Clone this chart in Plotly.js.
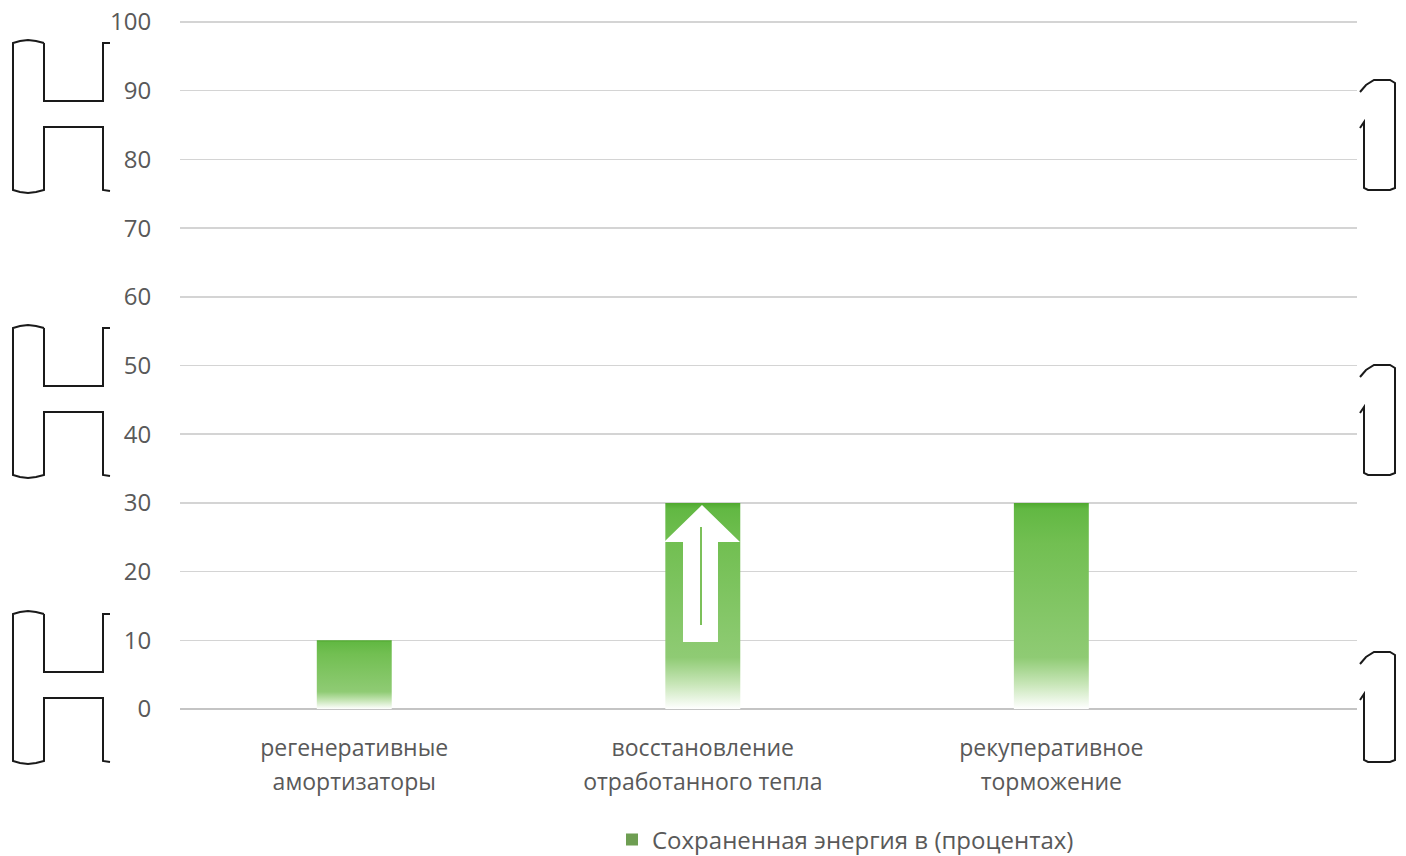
<!DOCTYPE html>
<html>
<head>
<meta charset="utf-8">
<script src="https://cdn.plot.ly/plotly-3.0.1.min.js"></script>
<style>
html,body{margin:0;padding:0;background:#fff;}
#chart{width:1406px;height:856px;}
</style>
</head>
<body>
<div id="chart"></div>
<script>
// ---- data ----
const categories = [
  "регенеративные<br>амортизаторы",
  "восстановление<br>отработанного тепла",
  "рекуперативное<br>торможение"
];
const savedEnergy = [10, 30, 30];
const seriesName = "Сохраненная энергия в (процентах)";
const yTicks = [0, 10, 20, 30, 40, 50, 60, 70, 80, 90, 100];

// ---- layout geometry (pixels) ----
const W = 1406, H = 856;
const M = {l: 180, r: 49, t: 21, b: 147};
const PW = W - M.l - M.r, PH = H - M.t - M.b;
const px = x => (x - M.l) / PW;
const py = y => (H - M.b - y) / PH;
function path(pts) {
  return pts.map((p, i) => (i ? 'L' : 'M') + px(p[0]).toFixed(5) + ',' + py(p[1]).toFixed(5)).join(' ');
}

// decorative binder brackets seen in the scan
const shapes = [];
const lineStyle = {color: '#1a1a1a', width: 2};
[0, 285, 571].forEach(o => {
  shapes.push({type: 'path', xref: 'paper', yref: 'paper', line: lineStyle,
    path: path([[110, 43 + o], [103, 43 + o], [103, 101 + o], [44, 101 + o], [44, 43 + o]]) +
          ' ' + path([[44, 43 + o], [36, 41 + o], [28, 40 + o], [20, 41 + o], [13, 43 + o], [13, 190 + o],
                      [20, 192 + o], [28, 193 + o], [36, 192 + o], [44, 190 + o], [44, 127 + o], [103, 127 + o], [103, 190 + o], [110, 191 + o]])
  });
});
[0, 285, 572].forEach(o => {
  shapes.push({type: 'path', xref: 'paper', yref: 'paper', line: lineStyle,
    path: path([[1360, 92 + o], [1366, 85 + o], [1374, 80 + o], [1390, 80 + o], [1395, 83 + o], [1395, 188 + o],
                [1390, 190 + o], [1368, 190 + o], [1364, 188 + o], [1364, 122 + o], [1360, 128 + o]])
  });
});
// white up-arrow over the middle bar
shapes.push({type: 'path', xref: 'paper', yref: 'paper', layer: 'above',
  fillcolor: '#ffffff', line: {width: 0},
  path: path([[683, 642], [718, 642], [718, 542], [740, 542], [702, 505], [664, 542], [683, 542]]) + ' Z'
});
shapes.push({type: 'path', xref: 'paper', yref: 'paper', layer: 'above',
  line: {color: '#7cc05a', width: 2},
  path: path([[701, 527], [701, 625]])
});

const trace = {
  type: 'bar',
  x: [0, 1, 2],
  y: savedEnergy,
  name: seriesName,
  width: 0.215,
  marker: {color: '#7cbd5a', line: {width: 0}},
  showlegend: true,
  hoverinfo: 'y'
};

const layout = {
  width: W, height: H,
  margin: M,
  paper_bgcolor: '#ffffff',
  plot_bgcolor: '#ffffff',
  font: {family: '"Open Sans", "Noto Sans", sans-serif', size: 24, color: '#595959'},
  showlegend: true,
  legend: {
    orientation: 'h',
    xref: 'container', yref: 'container',
    x: 612 / W, xanchor: 'left',
    y: (H - 840) / H, yanchor: 'middle',
    font: {size: 24, color: '#595959'},
    itemwidth: 30
  },
  xaxis: {
    range: [-0.5, 2.877],
    tickmode: 'array',
    tickvals: [0, 1, 2],
    ticktext: categories,
    ticks: 'outside', ticklen: 18, tickcolor: 'rgba(0,0,0,0)',
    showgrid: false, zeroline: false, showline: false, automargin: false,
    tickfont: {size: 23, color: '#595959'}
  },
  yaxis: {
    range: [0, 100.15],
    tickmode: 'array',
    tickvals: yTicks,
    ticks: 'outside', ticklen: 23, tickcolor: 'rgba(0,0,0,0)',
    showgrid: true, gridcolor: '#d4d4d4', gridwidth: 1.5,
    zeroline: true, zerolinecolor: '#c4c4c4', zerolinewidth: 1.5,
    showline: false, automargin: false,
    tickfont: {size: 24, color: '#595959'}
  },
  shapes: shapes
};

Plotly.newPlot('chart', [trace], layout, {displayModeBar: false, staticPlot: true}).then(gd => {
  const svg = gd.querySelector('.main-svg');
  const NS = 'http://www.w3.org/2000/svg';
  let defs = svg.querySelector('defs');
  if (!defs) { defs = document.createElementNS(NS, 'defs'); svg.insertBefore(defs, svg.firstChild); }
  const g = document.createElementNS(NS, 'linearGradient');
  g.setAttribute('id', 'barGrad');
  g.setAttribute('x1', '0'); g.setAttribute('y1', '0');
  g.setAttribute('x2', '0'); g.setAttribute('y2', '1');
  [['0', '#4fa82e'], ['0.03', '#62b843'], ['0.2', '#72bf52'], ['0.75', '#8fcb74'], ['0.88', '#c8e6b8'], ['1', '#ffffff']].forEach(s => {
    const st = document.createElementNS(NS, 'stop');
    st.setAttribute('offset', s[0]); st.setAttribute('stop-color', s[1]);
    g.appendChild(st);
  });
  defs.appendChild(g);
  gd.querySelectorAll('.barlayer .point path').forEach(p => { p.style.fill = 'url(#barGrad)'; });
  gd.querySelectorAll('.legend .legendpoints path').forEach(p => { p.style.fill = '#6e9e52'; });
  // wider line spacing for two-line category labels
  gd.querySelectorAll('.xtick text tspan.line').forEach((t, i) => {
    if (t.getAttribute('dy') && parseFloat(t.getAttribute('dy')) > 0) t.setAttribute('dy', '1.5em');
  });
});
</script>
</body>
</html>
